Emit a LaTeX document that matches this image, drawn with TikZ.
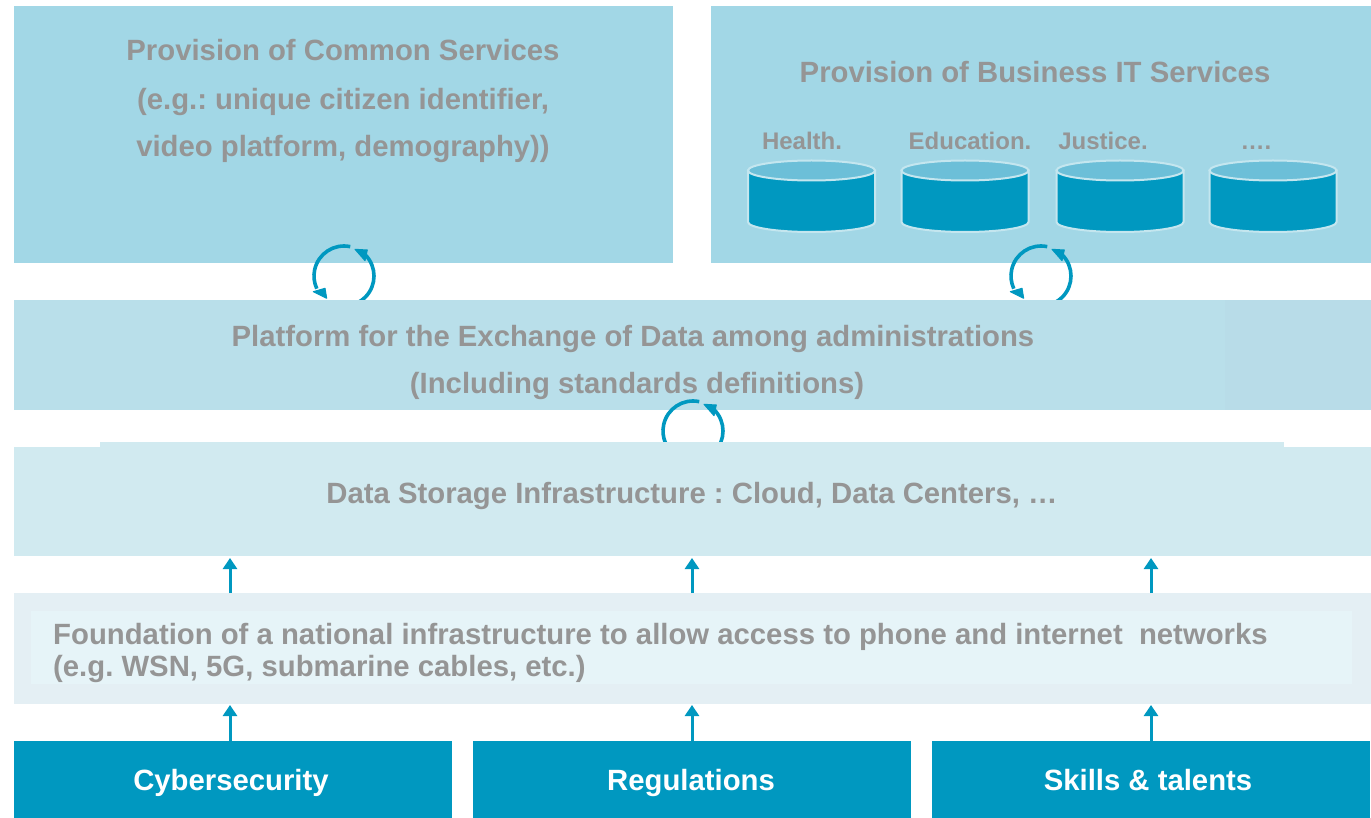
\documentclass[tikz,border=0pt]{standalone}
\usepackage{fontspec}
\setmainfont{Liberation Sans}
\usetikzlibrary{arrows.meta,calc}
\frenchspacing
\definecolor{panelA}{HTML}{A2D7E6}
\definecolor{panelB}{HTML}{B9DFEA}
\definecolor{panelBb}{HTML}{B8DCE8}
\definecolor{panelC}{HTML}{D1EAF0}
\definecolor{panelD}{HTML}{E4EFF4}
\definecolor{panelDb}{HTML}{E6F4F8}
\definecolor{teal}{HTML}{0098C0}
\definecolor{cyltop}{HTML}{6CBFD8}
\definecolor{cyledge}{HTML}{C4E6EF}
\definecolor{greytext}{HTML}{959595}
\tikzset{
  panel/.style={anchor=north west,inner sep=0pt,outer sep=0pt,minimum width=#1},
  lab/.style={font=\bfseries\fontsize{#1}{#1}\selectfont,text=greytext,inner sep=0pt,anchor=base},
  base/.style={anchor=north west,inner sep=0pt,outer sep=0pt,fill=teal,minimum width=438pt,minimum height=77pt},
  baselab/.style={font=\bfseries\fontsize{29.3}{29.3}\selectfont,text=white,inner sep=0pt,anchor=base},
  uparrow/.style={draw=teal,line width=3pt,-{Triangle[length=11pt,width=14pt]}},
  ring/.style={draw=teal,line width=3.6pt},
  ringtip/.style={fill=teal,draw=teal,line width=1pt,line join=round},
  cylside/.style={fill=teal,draw=cyledge,line width=2pt},
  cyltopst/.style={fill=cyltop,draw=cyledge,line width=2pt}
}
% y axis points down, so an arc's angle t is seen on screen at angle -t
\newcommand{\cyl}[2]{%
  \coordinate (#2) at (#1,170.5);
  \path[cylside] ($(#2)+(-63.5,0)$) -- ($(#2)+(-63.5,51.5)$) arc[start angle=180,end angle=0,x radius=63.5,y radius=10] -- ($(#2)+(63.5,0)$) -- cycle;
  \path[cyltopst] (#2) ellipse[x radius=63.5,y radius=10];
}
\newcommand{\ringarcs}[1]{%
  \draw[ring] ($(#1)+(-78:30)$) arc[start angle=-78,end angle=-205,radius=30];
  \draw[ring] ($(#1)+(-45:30)$) arc[start angle=-45,end angle=115,radius=30];
  \path[ringtip] ($(#1)+(11,-26.7)$) -- ($(#1)+(23.3,-26)$) -- ($(#1)+(21,-15.3)$) -- cycle;
}
\begin{document}
\begin{tikzpicture}[x=1pt,y=-1pt]
\useasboundingbox (0,0) rectangle (1371,818);
\fill[white] (0,0) rectangle (1371,818);
% top panels
\node[panel=659pt,minimum height=257pt,fill=panelA] (common) at (14,6) {};
\node[panel=660pt,minimum height=257pt,fill=panelA] (business) at (711,6) {};
% rings between top panels and exchange layer
\coordinate (r1) at (344,276);
\coordinate (r2) at (1041,276);
\coordinate (r3) at (693,431);
\ringarcs{r1}
\ringarcs{r2}
\foreach \c in {r1,r2}{
  \path[ringtip] ($(\c)+(-30.7,15.7)$) -- ($(\c)+(-19,12.3)$) -- ($(\c)+(-17.3,22.3)$) -- cycle;
}
% layers
\node[panel=1357pt,minimum height=110pt,fill=panelB] (exchange) at (14,300) {};
\node[panel=146pt,minimum height=110pt,fill=panelBb] (exchangeb) at (1225,300) {};
\ringarcs{r3}
\node[panel=1357pt,minimum height=109pt,fill=panelC] (storage) at (14,447) {};
\node[panel=1184pt,minimum height=5pt,fill=panelC] (storagetop) at (100,442) {};
\node[panel=1357pt,minimum height=111pt,fill=panelD] (network) at (14,593) {};
\node[panel=1321pt,minimum height=73pt,fill=panelDb] (networkin) at (31,611) {};
% base boxes
\node[base] (cyber) at (14,741) {};
\node[base] (regs) at (473,741) {};
\node[base] (skills) at (932,741) {};
% arrows
\coordinate (n1) at (230,593);
\coordinate (n2) at (692,593);
\coordinate (n3) at (1151,593);
\coordinate (s1) at (230,558);
\coordinate (s2) at (692,558);
\coordinate (s3) at (1151,558);
\coordinate (m1) at (230,705);
\coordinate (m2) at (692,705);
\coordinate (m3) at (1151,705);
\coordinate (f1) at (230,741);
\coordinate (f2) at (692,741);
\coordinate (f3) at (1151,741);
\draw[uparrow] (n1) -- (s1);
\draw[uparrow] (n2) -- (s2);
\draw[uparrow] (n3) -- (s3);
\draw[uparrow] (f1) -- (m1);
\draw[uparrow] (f2) -- (m2);
\draw[uparrow] (f3) -- (m3);
% cylinders
\cyl{811.5}{c1}
\cyl{965}{c2}
\cyl{1120}{c3}
\cyl{1273}{c4}
% text
\node[lab=29.3] (t1) at (343,61) {Provision of Common Services};
\node[lab=29.3] (t2) at (343,110) {(e.g.: unique citizen identifier,};
\node[lab=29.3] (t3) at (343,157) {video platform, demography))};
\node[lab=29.3] (t4) at (1035,82.5) {Provision of Business IT Services};
\node[lab=24] (h1) at (802,150) {Health.};
\node[lab=24] (h2) at (970,150) {Education.};
\node[lab=24] (h3) at (1103,150) {Justice.};
\node[lab=24] (h4) at (1256,150) {….};
\node[lab=29.3] (t5) at (633,346) {Platform for the Exchange of Data among administrations};
\node[lab=29.3] (t6) at (637,393) {(Including standards definitions)};
\node[lab=29.3] (t7) at (692,503) {Data Storage Infrastructure : Cloud, Data Centers, …};
\node[lab=29.3,anchor=base west] (t8) at (53,644) {Foundation of a national infrastructure to allow access to phone and internet\ \ networks};
\node[lab=29.3,anchor=base west] (t9) at (53,676) {(e.g. WSN, 5G, submarine cables, etc.)};
\node[baselab] (b1) at (231,790) {Cybersecurity};
\node[baselab] (b2) at (691,790) {Regulations};
\node[baselab] (b3) at (1148,790) {Skills \& talents};
\end{tikzpicture}
\end{document}
